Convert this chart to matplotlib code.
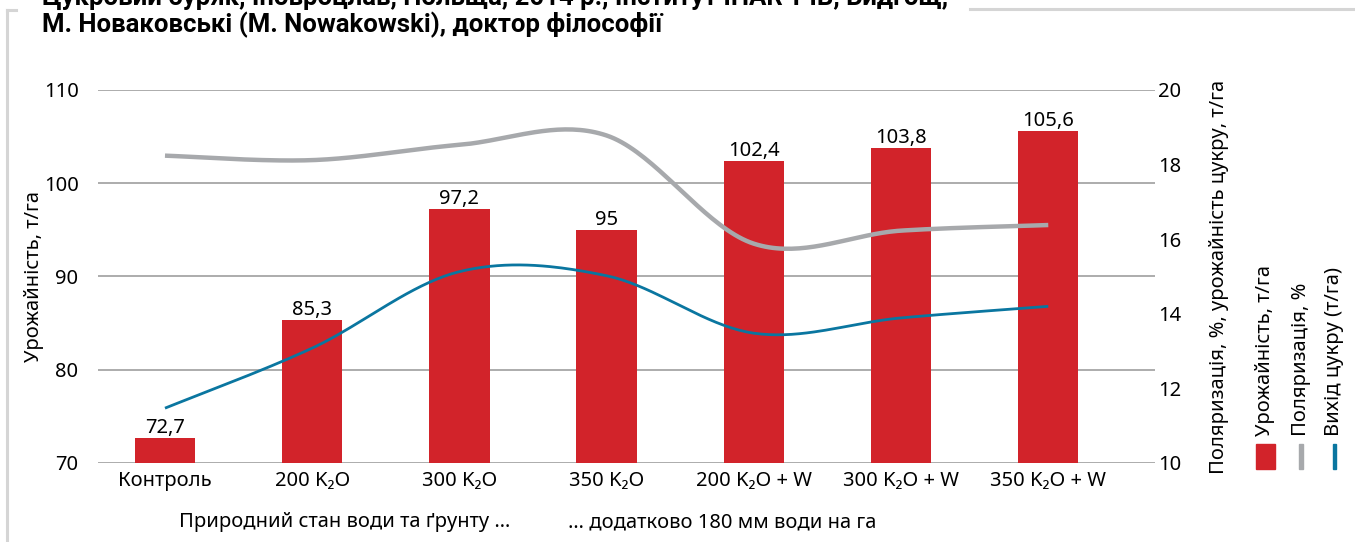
import numpy as np
import matplotlib
matplotlib.use("Agg")
import matplotlib.pyplot as plt
from matplotlib.lines import Line2D
from matplotlib.patches import Rectangle

plt.rcParams["font.family"] = ["Noto Sans", "DejaVu Sans"]

categories = ["Контроль", "200 K₂O", "300 K₂O", "350 K₂O",
              "200 K₂O + W", "300 K₂O + W", "350 K₂O + W"]
yield_t = [72.7, 85.3, 97.2, 95.0, 102.4, 103.8, 105.6]
yield_labels = ["72,7", "85,3", "97,2", "95", "102,4", "103,8", "105,6"]
polarization = [18.24, 18.12, 18.53, 18.78, 15.88, 16.23, 16.38]
sugar_yield = [11.47, 13.08, 15.13, 15.02, 13.48, 13.89, 14.20]
group_labels = ["Природний стан води та ґрунту …", "… додатково 180 мм води на га"]

title_1 = "Цукровий буряк, Іновроцлав, Польща, 2014 р., Інститут IHAR-PIB, Бидгощ,"
title_2 = "М. Новаковські (M. Nowakowski), доктор філософії"

RED = "#D2232A"
GREY = "#A7A9AC"
BLUE = "#0A76A0"
GRID = "#A6A6A6"
FS = 14.5


def smooth(ys, n=40):
    # Excel-style smoothed line (Catmull-Rom through the points)
    xs = np.arange(len(ys), dtype=float)
    ys = np.asarray(ys, dtype=float)
    px = np.concatenate([[xs[0]], xs, [xs[-1]]])
    py = np.concatenate([[ys[0]], ys, [ys[-1]]])
    t = np.linspace(0, 1, n)
    out_x, out_y = [], []
    for i in range(1, len(xs)):
        p0, p1, p2, p3 = px[i - 1], px[i], px[i + 1], px[i + 2]
        q0, q1, q2, q3 = py[i - 1], py[i], py[i + 1], py[i + 2]
        b1x, b2x = p1 + (p2 - p0) / 6, p2 - (p3 - p1) / 6
        b1y, b2y = q1 + (q2 - q0) / 6, q2 - (q3 - q1) / 6
        bx = (1 - t) ** 3 * p1 + 3 * (1 - t) ** 2 * t * b1x + 3 * (1 - t) * t ** 2 * b2x + t ** 3 * p2
        by = (1 - t) ** 3 * q1 + 3 * (1 - t) ** 2 * t * b1y + 3 * (1 - t) * t ** 2 * b2y + t ** 3 * q2
        out_x.append(bx)
        out_y.append(by)
    return np.concatenate(out_x), np.concatenate(out_y)


fig = plt.figure(figsize=(13.55, 5.42), dpi=100)
ax = fig.add_axes([98 / 1355, 1 - 463 / 542, (1155 - 98) / 1355, (463 - 90) / 542])

x = np.arange(len(categories))
bars = ax.bar(x, yield_t, width=0.41, color=RED, zorder=2)
ax.bar_label(bars, labels=yield_labels, padding=0, fontsize=FS)

ax.set_xlim(-0.455, 6.725)
ax.set_ylim(70, 110)
ax.set_yticks([70, 80, 90, 100, 110])
ax.set_xticks(x)
ax.set_xticklabels(categories, fontsize=FS)
ax.tick_params(axis="x", length=0, pad=6)
ax.tick_params(axis="y", length=0, pad=14, labelsize=FS)
ax.set_axisbelow(True)
ax.grid(axis="y", color=GRID, linewidth=1.3)
for s in ax.spines.values():
    s.set_visible(False)
ax.set_ylabel("Урожайність, т/га", fontsize=FS, labelpad=0)

ax2 = ax.twinx()
ax2.set_ylim(10, 20)
ax2.set_yticks([10, 12, 14, 16, 18, 20])
ax2.tick_params(axis="y", length=0, pad=2, labelsize=FS)
for s in ax2.spines.values():
    s.set_visible(False)
gx, gy = smooth(polarization)
ax2.plot(gx, gy, color=GREY, linewidth=3.2, solid_capstyle="butt", zorder=3)
bx, by = smooth(sugar_yield)
ax2.plot(bx, by, color=BLUE, linewidth=2.0, solid_capstyle="butt", zorder=4)
ax2.set_ylabel("Поляризація, %, урожайність цукру, т/га", fontsize=FS, labelpad=20)

# group captions under the category labels
fig.text(345 / 1355, 1 - 522 / 542, group_labels[0], fontsize=FS, ha="center", va="center")
fig.text(722 / 1355, 1 - 522 / 542, group_labels[1], fontsize=FS, ha="center", va="center")

# legend, drawn vertically at the right
leg = [("Урожайність, т/га", RED, 1265, 19), ("Поляризація, %", GREY, 1301, 4),
       ("Вихід цукру (т/га)", BLUE, 1334, 3)]
for label, col, xc, w in leg:
    fig.text(xc / 1355, 1 - 436 / 542, label, rotation=90, fontsize=FS,
             ha="center", va="bottom")
    fig.add_artist(Rectangle(((xc - w / 2) / 1355, 1 - 469 / 542), w / 1355, 25 / 542,
                             color=col, transform=fig.transFigure))

# title (top line cut by the image edge, as in the source)
fig.text(42 / 1355, 1 - 5 / 542, title_1, fontsize=18.5, fontweight="bold",
         va="baseline", family=["Roboto", "DejaVu Sans"])
fig.text(42 / 1355, 1 - 32 / 542, title_2, fontsize=18.5, fontweight="bold",
         va="baseline", family=["Roboto", "DejaVu Sans"])

# light frame around the chart
frame = dict(color="#D5D5D5", linewidth=2.2, transform=fig.transFigure)
fig.add_artist(Line2D([7 / 1355, 7 / 1355], [0, 1 - 10 / 542], **frame))
fig.add_artist(Line2D([7 / 1355, 16 / 1355], [1 - 10 / 542, 1 - 10 / 542], **frame))
fig.add_artist(Line2D([970 / 1355, 1], [1 - 9 / 542, 1 - 9 / 542], **frame))

fig.savefig("out.png", dpi=100)
